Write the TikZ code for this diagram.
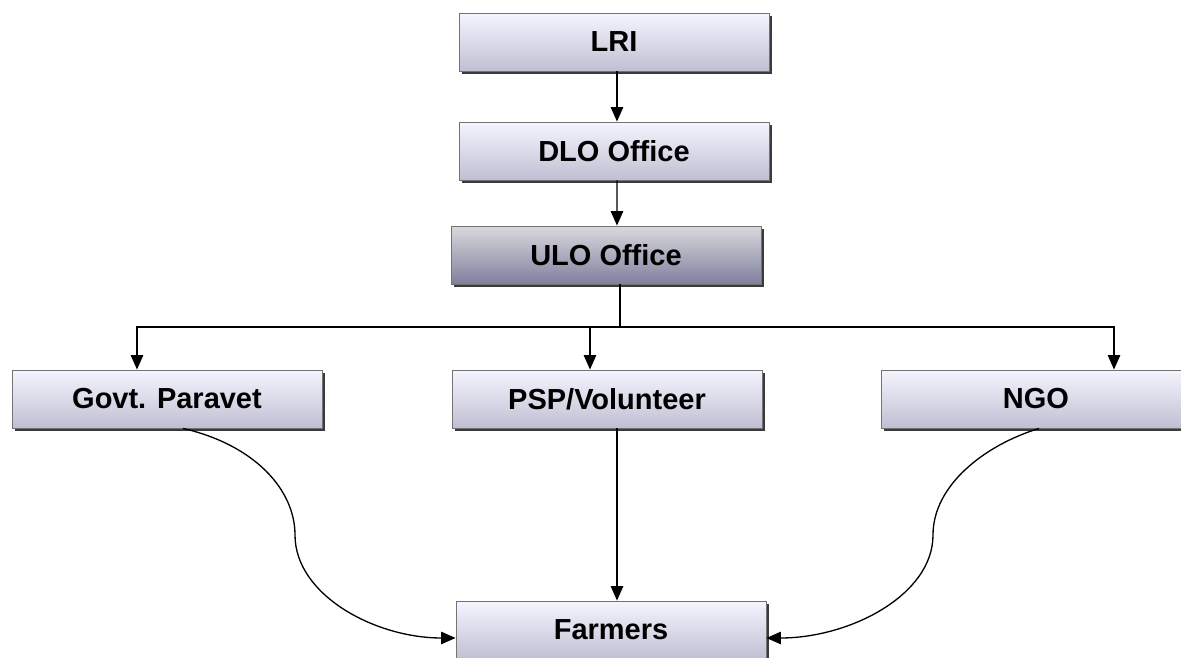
\documentclass[tikz,border=0pt]{standalone}
\usepackage{fontspec}
\setmainfont{Liberation Sans}
\usetikzlibrary{arrows.meta,shadows}

\begin{document}
\begin{tikzpicture}[x=0.02cm,y=-0.02cm,font=\fontsize{16.5}{19}\selectfont\bfseries,
 box/.style={draw=black!55,line width=.5pt,minimum width=6.2cm,minimum height=1.16cm,
  top color=blue!4,bottom color=blue!30!black!25!white,
  drop shadow={shadow xshift=1.6pt,shadow yshift=-1.8pt,fill=black!85,opacity=.9}},
 darkbox/.style={box,top color=blue!10!black!15,bottom color=blue!25!black!50},
 arr/.style={-{Triangle[length=2.9mm,width=2.5mm]},line width=.75pt}]
\useasboundingbox[fill=white] (0,0) rectangle (1181,658);
\node[box] (lri) at (614,42) {LRI};
\node[box] (dlo) at (614,151) {DLO Office};
\node[darkbox] (ulo) at (606,255) {ULO Office};
\node[box] (paravet) at (167,399) {Govt. Paravet};
\node[box] (psp) at (607,399) {PSP/Volunteer};
\node[box] (ngo) at (1036,399) {NGO};
\node[box] (farmers) at (611,630) {Farmers};
\draw[arr] ([xshift=0.6mm]lri.south) -- ([xshift=0.6mm]dlo.north);
\draw[arr] ([xshift=0.6mm]dlo.south) -- ([xshift=2.2mm]ulo.north);
\coordinate (split) at (620,327);
\draw[line width=.75pt] (ulo.south -| split) -- (split);
\draw[arr] (split) -| ([xshift=-6mm]paravet.north);
\draw[arr] (split) -| ([xshift=-3.4mm]psp.north);
\draw[arr] (split) -| ([xshift=15.6mm]ngo.north);
\draw[arr] ([xshift=2mm]psp.south) -- ([xshift=2mm]psp.south |- farmers.north);
\draw[arr] ([xshift=3.2mm]paravet.south) .. controls (255,445) and (295,490) .. (295,535)
 .. controls (295,595) and (375,638) .. ([yshift=-1.6mm]farmers.west);
\draw[arr] ([xshift=0.6mm]ngo.south) .. controls (985,445) and (933,485) .. (933,535)
 .. controls (933,595) and (850,638) .. ([yshift=-1.6mm]farmers.east);
\end{tikzpicture}
\end{document}
